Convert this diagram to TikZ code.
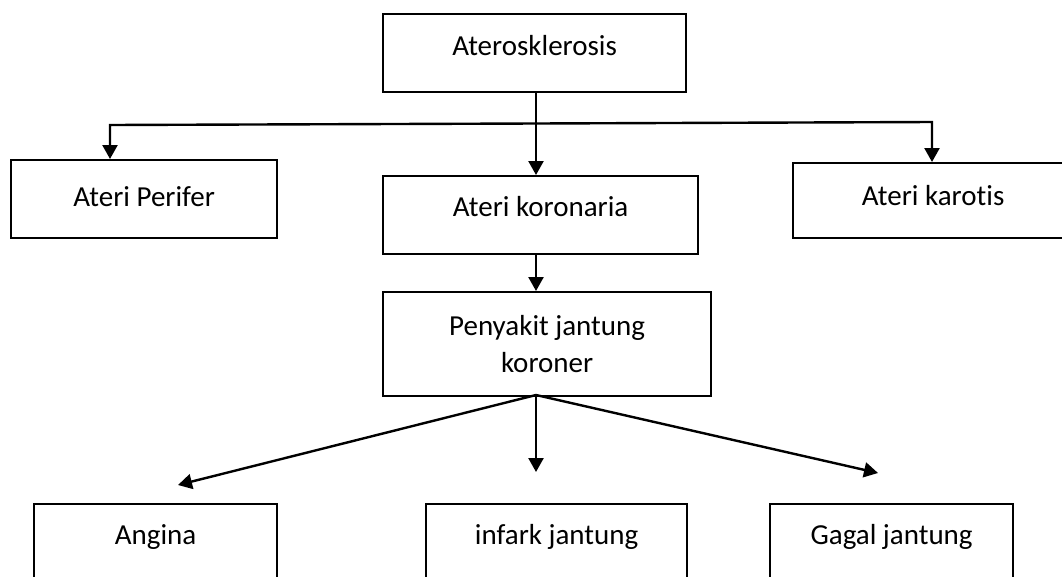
\documentclass[tikz,border=0pt]{standalone}
\usepackage{fontspec}
\setmainfont{Carlito}[Ligatures={NoCommon,NoRare,NoContextual}]
\usetikzlibrary{arrows.meta}
\tikzset{
  box/.style={draw, line width=2.2pt, rectangle, inner xsep=0pt, inner ysep=0pt,
    text height=41pt, anchor=north west},
  arr/.style={line width=2.4pt, -{Triangle[length=14pt,width=15pt]}},
  ln/.style={line width=2.4pt}
}
\begin{document}
\begin{tikzpicture}[x=1pt,y=-1pt,font=\fontsize{29}{37}\selectfont]
\useasboundingbox (0,0) rectangle (1062,576);
\clip (0,0) rectangle (1062,576);
% boxes
\node[box, minimum width=303pt, text depth=37pt] (ater) at (382,13) {Aterosklerosis};
\node[box, minimum width=266pt, text depth=32pt, text height=46pt] (perifer) at (10,159) {Ateri Perifer};
\node[box, minimum width=315pt, text depth=38pt, text height=40pt] (koronaria) at (382,175) {Ateri koronaria};
\node[box, minimum width=280pt, text depth=33pt, text height=42pt] (karotis) at (792,162) {Ateri karotis};
\node[draw, line width=2.2pt, rectangle, inner sep=0pt, anchor=north west,
      minimum width=328pt, minimum height=104pt, align=center] (penyakit) at (382,291)
      {Penyakit jantung\\koroner};
\node[box, minimum width=243pt, text depth=50pt, text height=40pt] (angina) at (33,503) {Angina};
\node[box, minimum width=261pt, text depth=50pt, text height=40pt] (infark) at (425,503) {infark jantung};
\node[box, minimum width=243pt, text depth=50pt, text height=40pt] (gagal) at (769,503) {Gagal jantung};
% junction coordinates
\coordinate (hm) at (536,123.5);
\coordinate (hl) at (110,125);
\coordinate (hr) at (932,122);
\coordinate (src) at (536,395);
\coordinate (ta) at (178,485);
\coordinate (ti) at (536,472);
\coordinate (tg) at (878,473);
% connectors
\draw[arr] (ater.south -| hm) -- (koronaria.north -| hm);
\draw[arr] (hm) -- (hl) -- (perifer.north -| hl);
\draw[arr] (hm) -- (hr) -- (karotis.north -| hr);
\draw[arr] (koronaria.south -| hm) -- (penyakit.north -| hm);
\draw[arr] (src) -- (ta);
\draw[arr] (src) -- (ti);
\draw[arr] (src) -- (tg);
\end{tikzpicture}
\end{document}
